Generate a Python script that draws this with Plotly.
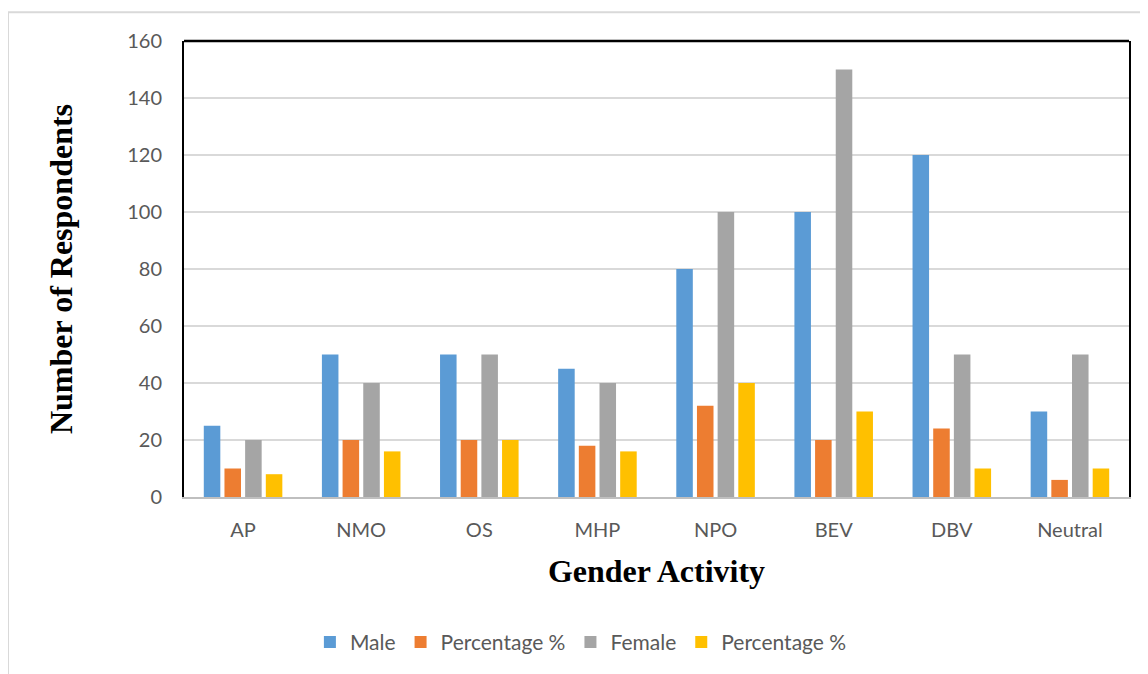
import plotly.graph_objects as go

categories = ["AP", "NMO", "OS", "MHP", "NPO", "BEV", "DBV", "Neutral"]
male = [25, 50, 50, 45, 80, 100, 120, 30]
male_pct = [10, 20, 20, 18, 32, 20, 24, 6]
female = [20, 40, 50, 40, 100, 150, 50, 50]
female_pct = [8, 16, 20, 16, 40, 30, 10, 10]
series_names = ["Male", "Percentage %", "Female", "Percentage %"]
colors = ["#5B9BD5", "#ED7D31", "#A5A5A5", "#FFC000"]

fig = go.Figure()
for name, vals, col in zip(series_names, [male, male_pct, female, female_pct], colors):
    fig.add_trace(go.Bar(x=categories, y=vals, name=name, marker_color=col,
                         marker_line_width=0))

OFF = 7  # page body offset
FW, FH = 1148 - OFF, 674 - OFF
L, R, T, B = 183 - OFF, 1128 - OFF, 40 - OFF, 498 - OFF
W, H = R - L, B - T

def px_x(p):
    return (p - OFF - L) / W

def px_y(p):
    return (B - (p - OFF)) / H

fig.update_layout(
    width=FW, height=FH,
    margin=dict(l=L, r=FW - R, t=T, b=FH - B),
    plot_bgcolor="white", paper_bgcolor="white",
    barmode="group", bargap=0.3, bargroupgap=0.2,
    font=dict(family="Lato", color="#595959", size=20),
    showlegend=True,
    legend=dict(orientation="h", x=0.42, xanchor="center", y=px_y(644), yanchor="middle",
                font=dict(size=21, color="#595959"), itemwidth=30, traceorder="normal"),
    xaxis=dict(showgrid=False, showline=True, linecolor="#BFBFBF", linewidth=2,
               ticks="", tickfont=dict(size=20, color="#595959"), ticklabelstandoff=14,
               title=dict(text="<b>Gender Activity</b>",
                          font=dict(family="Liberation Serif", size=32, color="black"),
                          standoff=20)),
    yaxis=dict(range=[0, 160], dtick=20, showgrid=True, gridcolor="#D9D9D9", gridwidth=2,
               showline=True, linecolor="black", linewidth=2, mirror=True,
               ticks="", zeroline=False, tickfont=dict(size=20, color="#595959"),
               ticklabelstandoff=16,
               title=dict(text="<b>Number of Respondents</b>",
                          font=dict(family="Liberation Serif", size=32, color="black"),
                          standoff=45)),
)

fig.add_shape(type="line", xref="paper", yref="paper", x0=0, x1=1, y0=1, y1=1,
              line=dict(color="black", width=2.5))
fig.add_shape(type="rect", xref="paper", yref="paper",
              x0=px_x(7), x1=px_x(1170), y0=px_y(11), y1=px_y(700),
              line=dict(color="#D9D9D9", width=2), layer="below")

fig.write_html("out.html")
